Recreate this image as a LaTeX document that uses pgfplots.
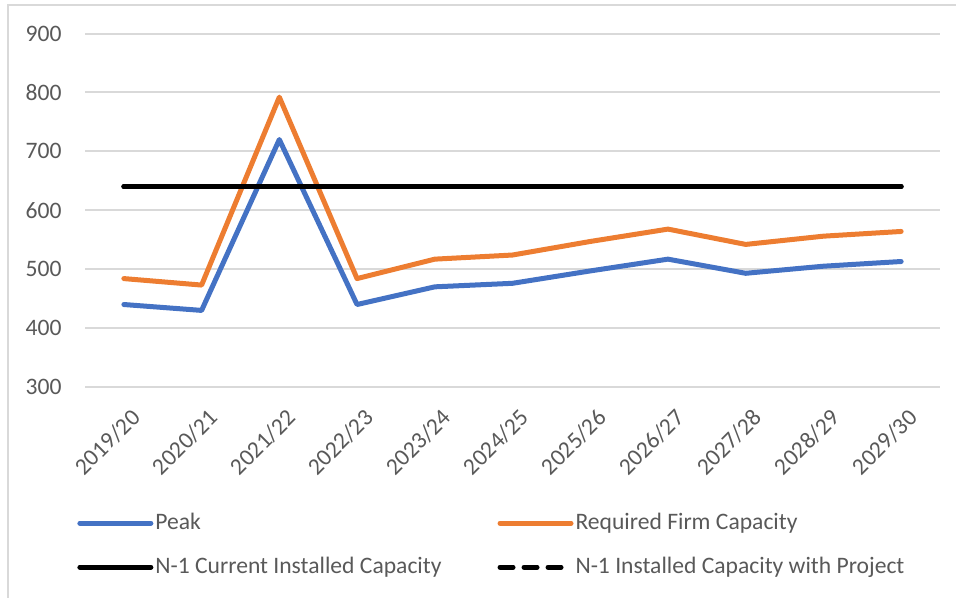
\documentclass[border=0pt]{standalone}
\usepackage{pgfplots}
\pgfplotsset{compat=1.18}
\usepackage{fontspec}
\setmainfont{Carlito}
\definecolor{peakblue}{HTML}{4472C4}
\definecolor{reqorange}{HTML}{ED7D31}
\definecolor{gridgray}{HTML}{D9D9D9}
\definecolor{labelgray}{HTML}{595959}

\begin{document}
\begin{tikzpicture}[font=\fontsize{11.8}{14}\selectfont]
\path[use as bounding box] (0,0) rectangle (478pt,299pt);
% chart frame
\draw[gridgray, line width=1pt] (4pt,-2pt) -- (4pt,296.5pt) -- (480pt,296.5pt);

\begin{axis}[
    at={(42.5pt,105.5pt)}, anchor=south west,
    scale only axis, width=427.5pt, height=176.75pt,
    xmin=-0.5, xmax=10.5, ymin=300, ymax=900,
    axis line style={draw=none},
    major tick length=0pt,
    ymajorgrids, grid style={gridgray, line width=1pt},
    ytick={300,400,...,900},
    xtick={0,...,10},
    xticklabels={2019/20,2020/21,2021/22,2022/23,2023/24,2024/25,2025/26,2026/27,2027/28,2028/29,2029/30},
    tick label style={text=labelgray},
    /pgf/number format/assume math mode=true,
    yticklabel style={anchor=east, inner sep=0pt, xshift=-11.5pt},
    xticklabel style={xshift=3pt, yshift=-10pt, rotate=45, anchor=north east, inner sep=0pt},
    legend columns=2,
    legend cell align=left,
    legend image code/.code={\draw[#1] (0pt,0pt) -- (35.5pt,0pt);},
    legend style={at={(rel axis cs:-0.0094,-0.353)}, anchor=north west,
        draw=none, fill=none, inner sep=0pt, row sep=11pt, column sep=1pt,
        nodes={inner sep=0pt, text height=8.5pt, text depth=2.5pt, text=labelgray},
        /tikz/every even column/.append style={column sep=28pt}},
    every axis plot/.append style={line width=2.5pt, line cap=round, line join=round},
]

\addplot[peakblue] coordinates {
    (0,440) (1,430) (2,720) (3,440) (4,470) (5,476)
    (6,497) (7,517) (8,493) (9,505) (10,513)
};
\addlegendentry{Peak}

\addplot[reqorange] coordinates {
    (0,484) (1,473) (2,792) (3,484) (4,517) (5,524)
    (6,547) (7,568) (8,542) (9,556) (10,564)
};
\addlegendentry{Required Firm Capacity}

\addplot[black] coordinates {
    (0,640) (1,640) (2,640) (3,640) (4,640) (5,640)
    (6,640) (7,640) (8,640) (9,640) (10,640)
};
\addlegendentry{N-1 Current Installed Capacity}

\addplot[black, dash pattern=on 6.5pt off 5.5pt] coordinates {
    (0,640) (1,640) (2,640) (3,640) (4,640) (5,640)
    (6,640) (7,640) (8,640) (9,640) (10,640)
};
\addlegendentry{N-1 Installed Capacity with Project}

\end{axis}
\end{tikzpicture}
\end{document}
